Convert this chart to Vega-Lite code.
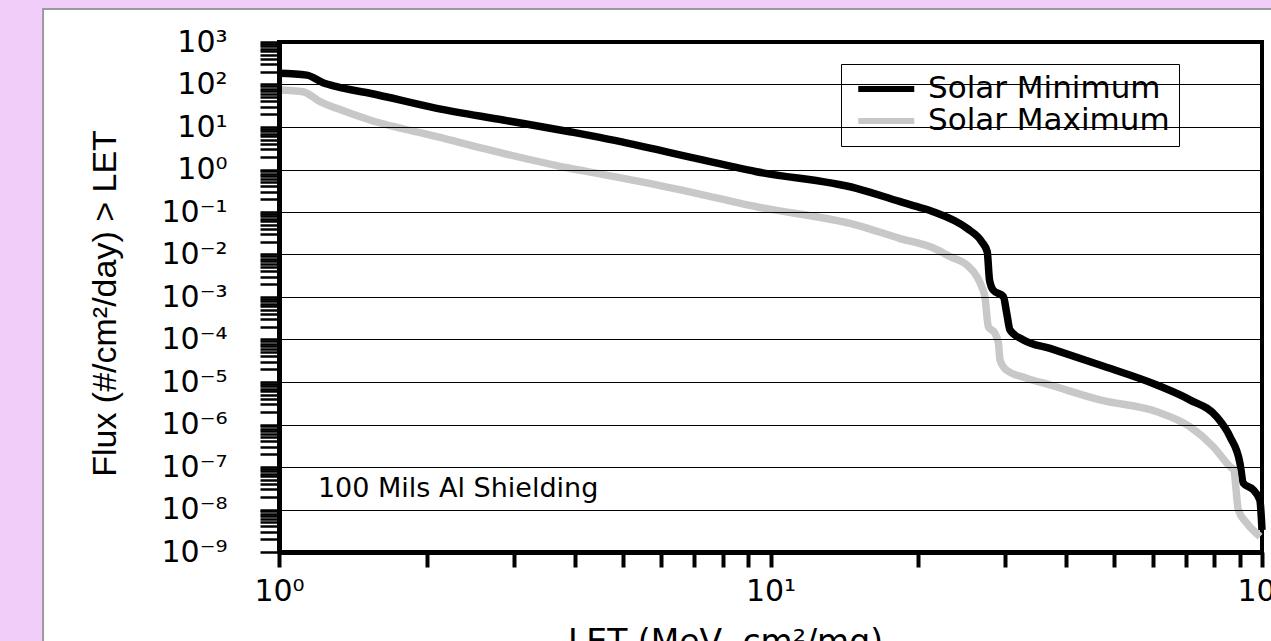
{
  "$schema": "https://vega.github.io/schema/vega-lite/v6.json",
  "width": 983,
  "height": 510,
  "autosize": {"type": "none"},
  "padding": {"left": 279, "top": 42, "right": 9, "bottom": 89},
  "background": "white",
  "config": {"view": {"stroke": "black", "strokeWidth": 4}},
  "datasets": {
    "flux": [
      {"condition": "Solar Minimum", "let": 1.0, "flux": 183},
      {"condition": "Solar Minimum", "let": 1.139, "flux": 166},
      {"condition": "Solar Minimum", "let": 1.229, "flux": 110},
      {"condition": "Solar Minimum", "let": 1.31, "flux": 88.7},
      {"condition": "Solar Minimum", "let": 1.531, "flux": 62.1},
      {"condition": "Solar Minimum", "let": 2.094, "flux": 27.5},
      {"condition": "Solar Minimum", "let": 2.858, "flux": 14.6},
      {"condition": "Solar Minimum", "let": 3.904, "flux": 7.74},
      {"condition": "Solar Minimum", "let": 4.494, "flux": 5.71},
      {"condition": "Solar Minimum", "let": 6.34, "flux": 2.4},
      {"condition": "Solar Minimum", "let": 9.37, "flux": 0.887},
      {"condition": "Solar Minimum", "let": 14.96, "flux": 0.361},
      {"condition": "Solar Minimum", "let": 18.3, "flux": 0.178},
      {"condition": "Solar Minimum", "let": 20.1, "flux": 0.129},
      {"condition": "Solar Minimum", "let": 21.5, "flux": 0.1},
      {"condition": "Solar Minimum", "let": 25.1, "flux": 0.0413},
      {"condition": "Solar Minimum", "let": 26.9, "flux": 0.02},
      {"condition": "Solar Minimum", "let": 27.6, "flux": 0.0116},
      {"condition": "Solar Minimum", "let": 27.9, "flux": 0.00251},
      {"condition": "Solar Minimum", "let": 28.37, "flux": 0.00146},
      {"condition": "Solar Minimum", "let": 29.77, "flux": 0.00102},
      {"condition": "Solar Minimum", "let": 30.24, "flux": 0.000417},
      {"condition": "Solar Minimum", "let": 30.72, "flux": 0.000166},
      {"condition": "Solar Minimum", "let": 32.7, "flux": 9.77e-5},
      {"condition": "Solar Minimum", "let": 37.05, "flux": 6.17e-5},
      {"condition": "Solar Minimum", "let": 46.8, "flux": 2.51e-5},
      {"condition": "Solar Minimum", "let": 61.1, "flux": 8.51e-6},
      {"condition": "Solar Minimum", "let": 71.3, "flux": 3.8e-6},
      {"condition": "Solar Minimum", "let": 80.9, "flux": 1.51e-6},
      {"condition": "Solar Minimum", "let": 86.1, "flux": 5.13e-7},
      {"condition": "Solar Minimum", "let": 90.2, "flux": 1.23e-7},
      {"condition": "Solar Minimum", "let": 91.6, "flux": 4.17e-8},
      {"condition": "Solar Minimum", "let": 96.0, "flux": 2.88e-8},
      {"condition": "Solar Minimum", "let": 99.0, "flux": 1.66e-8},
      {"condition": "Solar Minimum", "let": 100, "flux": 3.3e-9},
      {"condition": "Solar Maximum", "let": 1.0, "flux": 74.3},
      {"condition": "Solar Maximum", "let": 1.12, "flux": 67.6},
      {"condition": "Solar Maximum", "let": 1.212, "flux": 39.4},
      {"condition": "Solar Maximum", "let": 1.31, "flux": 27.5},
      {"condition": "Solar Maximum", "let": 1.531, "flux": 14.6},
      {"condition": "Solar Maximum", "let": 2.094, "flux": 5.92},
      {"condition": "Solar Maximum", "let": 2.858, "flux": 2.4},
      {"condition": "Solar Maximum", "let": 3.904, "flux": 1.07},
      {"condition": "Solar Maximum", "let": 4.494, "flux": 0.79},
      {"condition": "Solar Maximum", "let": 6.34, "flux": 0.361},
      {"condition": "Solar Maximum", "let": 9.37, "flux": 0.133},
      {"condition": "Solar Maximum", "let": 14.96, "flux": 0.0494},
      {"condition": "Solar Maximum", "let": 18.3, "flux": 0.024},
      {"condition": "Solar Maximum", "let": 21.5, "flux": 0.014},
      {"condition": "Solar Maximum", "let": 23.2, "flux": 0.0089},
      {"condition": "Solar Maximum", "let": 25.1, "flux": 0.00566},
      {"condition": "Solar Maximum", "let": 26.3, "flux": 0.00302},
      {"condition": "Solar Maximum", "let": 26.9, "flux": 0.00175},
      {"condition": "Solar Maximum", "let": 27.3, "flux": 0.00102},
      {"condition": "Solar Maximum", "let": 27.75, "flux": 0.0002},
      {"condition": "Solar Maximum", "let": 28.6, "flux": 0.000141},
      {"condition": "Solar Maximum", "let": 29.1, "flux": 8.1e-5},
      {"condition": "Solar Maximum", "let": 29.3, "flux": 3.3e-5},
      {"condition": "Solar Maximum", "let": 30.2, "flux": 1.9e-5},
      {"condition": "Solar Maximum", "let": 33.2, "flux": 1.23e-5},
      {"condition": "Solar Maximum", "let": 37.05, "flux": 8.5e-6},
      {"condition": "Solar Maximum", "let": 46.8, "flux": 3.8e-6},
      {"condition": "Solar Maximum", "let": 61.1, "flux": 2.0e-6},
      {"condition": "Solar Maximum", "let": 71.3, "flux": 8.9e-7},
      {"condition": "Solar Maximum", "let": 79.6, "flux": 3.0e-7},
      {"condition": "Solar Maximum", "let": 86.1, "flux": 1.02e-7},
      {"condition": "Solar Maximum", "let": 87.6, "flux": 8.5e-8},
      {"condition": "Solar Maximum", "let": 89.5, "flux": 9.8e-9},
      {"condition": "Solar Maximum", "let": 93.1, "flux": 4.8e-9},
      {"condition": "Solar Maximum", "let": 99.1, "flux": 2.3e-9}
    ]
  },
  "layer": [
    {
      "data": {"values": [{}]},
      "mark": {"type": "rect", "fill": "#f0cef9", "clip": false},
      "encoding": {
        "x": {"datum": 0.001, "type": "quantitative", "scale": {"type": "log", "domain": [1, 100], "nice": false}},
        "x2": {"datum": 0.3311},
        "y": {"datum": 1e-14, "type": "quantitative", "scale": {"type": "log", "domain": [1e-9, 1000], "nice": false}},
        "y2": {"datum": 1e6}
      }
    },
    {
      "data": {"values": [{}]},
      "mark": {"type": "rect", "fill": "#f0cef9", "clip": false},
      "encoding": {
        "x": {"datum": 0.001, "type": "quantitative"},
        "x2": {"datum": 10000},
        "y": {"datum": 5970, "type": "quantitative"},
        "y2": {"datum": 1e6}
      }
    },
    {
      "data": {"values": [{}]},
      "mark": {"type": "rect", "filled": false, "stroke": "#9a9a9a", "strokeWidth": 2, "clip": false},
      "encoding": {
        "x": {"datum": 0.3311, "type": "quantitative"},
        "x2": {"datum": 10000},
        "y": {"datum": 1e-14, "type": "quantitative"},
        "y2": {"datum": 5970}
      }
    },
    {
      "data": {"values": [{"label": "100 Mils Al Shielding"}]},
      "mark": {"type": "text", "font": "DejaVu Sans", "fontSize": 27, "align": "left", "baseline": "alphabetic", "color": "black"},
      "encoding": {
        "x": {"datum": 1.2, "type": "quantitative"},
        "y": {"datum": 2e-8, "type": "quantitative"},
        "text": {"field": "label"}
      }
    },
    {
      "data": {"name": "flux"},
      "mark": {"type": "line", "strokeWidth": 7.5, "interpolate": "monotone", "strokeJoin": "round"},
      "encoding": {
        "x": {
          "field": "let", "type": "quantitative",
          "scale": {"type": "log", "domain": [1, 100], "nice": false},
          "axis": {
            "title": "LET (MeV- cm²/mg)",
            "titleFont": "DejaVu Sans", "titleFontSize": 33, "titleFontWeight": "normal", "titleColor": "black",
            "titleX": 446, "titleY": 74, "titleBaseline": "top", "titleAlign": "center",
            "values": [1, 2, 3, 4, 5, 6, 7, 8, 9, 10, 20, 30, 40, 50, 60, 70, 80, 90, 100],
            "labelExpr": "abs(log(datum.value)/LN10 - round(log(datum.value)/LN10)) < 0.001 ? '10' + replace(replace(replace(replace(replace(replace(replace(replace(replace(replace(replace(toString(round(log(datum.value)/LN10)),'-','⁻'),'0','⁰'),'1','¹'),'2','²'),'3','³'),'4','⁴'),'5','⁵'),'6','⁶'),'7','⁷'),'8','⁸'),'9','⁹') : ''",
            "labelFont": "DejaVu Sans", "labelFontSize": 30, "labelColor": "black", "labelPadding": 9,
            "labelOverlap": false, "labelFlush": false, "labelBound": false,
            "grid": false,
            "domainColor": "black", "domainWidth": 5,
            "tickColor": "black", "tickWidth": 4, "tickSize": 15,
            "zindex": 1
          }
        },
        "y": {
          "field": "flux", "type": "quantitative",
          "scale": {"type": "log", "domain": [1e-9, 1000], "nice": false},
          "axis": {
            "title": "Flux (#/cm²/day) > LET",
            "titleFont": "Liberation Sans", "titleFontSize": 34, "titleFontWeight": "normal", "titleColor": "black",
            "titleX": -174, "titleY": 261, "titleBaseline": "middle", "titleAlign": "center", "titleAngle": -90,
            "values": [1e-9, 2e-9, 3e-9, 4e-9, 5e-9, 6e-9, 7e-9, 8e-9, 9e-9,
                       1e-8, 2e-8, 3e-8, 4e-8, 5e-8, 6e-8, 7e-8, 8e-8, 9e-8,
                       1e-7, 2e-7, 3e-7, 4e-7, 5e-7, 6e-7, 7e-7, 8e-7, 9e-7,
                       1e-6, 2e-6, 3e-6, 4e-6, 5e-6, 6e-6, 7e-6, 8e-6, 9e-6,
                       1e-5, 2e-5, 3e-5, 4e-5, 5e-5, 6e-5, 7e-5, 8e-5, 9e-5,
                       1e-4, 2e-4, 3e-4, 4e-4, 5e-4, 6e-4, 7e-4, 8e-4, 9e-4,
                       0.001, 0.002, 0.003, 0.004, 0.005, 0.006, 0.007, 0.008, 0.009,
                       0.01, 0.02, 0.03, 0.04, 0.05, 0.06, 0.07, 0.08, 0.09,
                       0.1, 0.2, 0.3, 0.4, 0.5, 0.6, 0.7, 0.8, 0.9,
                       1, 2, 3, 4, 5, 6, 7, 8, 9,
                       10, 20, 30, 40, 50, 60, 70, 80, 90,
                       100, 200, 300, 400, 500, 600, 700, 800, 900, 1000],
            "labelExpr": "abs(log(datum.value)/LN10 - round(log(datum.value)/LN10)) < 0.001 ? '10' + replace(replace(replace(replace(replace(replace(replace(replace(replace(replace(replace(toString(round(log(datum.value)/LN10)),'-','⁻'),'0','⁰'),'1','¹'),'2','²'),'3','³'),'4','⁴'),'5','⁵'),'6','⁶'),'7','⁷'),'8','⁸'),'9','⁹') : ''",
            "labelFont": "DejaVu Sans", "labelFontSize": 30, "labelColor": "black", "labelPadding": 33,
            "labelOverlap": false, "labelFlush": false, "labelBound": false,
            "grid": true, "gridColor": "black", "gridWidth": 1.2,
            "gridOpacity": {"condition": {"test": "abs(log(datum.value)/LN10 - round(log(datum.value)/LN10)) < 0.001", "value": 1}, "value": 0},
            "domainColor": "black", "domainWidth": 5,
            "tickColor": "black", "tickWidth": 2.5, "tickSize": 19,
            "zindex": 1
          }
        },
        "color": {
          "field": "condition", "type": "nominal",
          "scale": {"domain": ["Solar Minimum", "Solar Maximum"], "range": ["#000000", "#c8c8c8"]},
          "sort": ["Solar Minimum", "Solar Maximum"],
          "legend": {
            "title": null, "orient": "none", "legendX": 562, "legendY": 22,
            "direction": "vertical",
            "fillColor": "white", "strokeColor": "black",
            "padding": 9,
            "symbolType": "M-0.7,0H2.5", "symbolSize": 1225, "symbolStrokeWidth": 6,
            "labelFont": "DejaVu Sans", "labelFontSize": 31, "labelColor": "black", "labelOffset": 37,
            "labelLimit": 400, "rowPadding": 0, "clipHeight": 32
          }
        }
      }
    }
  ]
}
